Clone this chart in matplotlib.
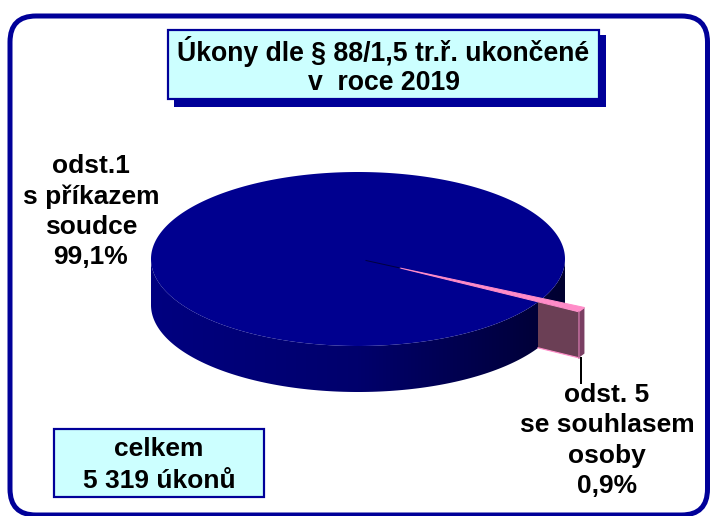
import numpy as np
import matplotlib
matplotlib.use("Agg")
import matplotlib.pyplot as plt
from matplotlib.colors import LinearSegmentedColormap
from matplotlib.patches import FancyBboxPatch, Polygon, Rectangle

title_text = "Úkony dle § 88/1,5 tr.ř. ukončené\nv  roce 2019"
total_text = "celkem\n5 319 úkonů"
slice_names = ["odst.1\ns příkazem\nsoudce", "odst. 5\nse souhlasem\nosoby"]
shares = [99.1, 0.9]

navy = "#00008f"
frame = "#000099"
pink = "#ff8cc8"
pale = "#ccffff"

plt.rcParams["font.family"] = ["Liberation Sans", "DejaVu Sans"]
plt.rcParams["font.weight"] = "bold"

W, H = 710, 516
fig = plt.figure(figsize=(W / 100, H / 100), dpi=100)
ax = fig.add_axes([0, 0, 1, 1])
ax.set_xlim(0, W)
ax.set_ylim(H, 0)
ax.axis("off")

px = 0.72  # one pixel in points

# outer rounded frame, bottom edge runs into the image border
ax.add_patch(FancyBboxPatch((10, 16), 697.5, 499, boxstyle="round,pad=0,rounding_size=26",
                            fc="white", ec=frame, lw=5 * px, zorder=0.5))

# pie geometry
cx, cy, rx, ry, depth = 358, 259, 207, 87, 46
small_deg = shares[1] / sum(shares) * 360
a_start = -27.0
a_end = a_start - small_deg
off_x, off_y = 42, 9


def rim(a, dx=0, dy=0, down=0):
    t = np.radians(a)
    return cx + dx + rx * np.cos(t), cy + dy - ry * np.sin(t) + down


# side of main slice, shaded left to right
side_cmap = LinearSegmentedColormap.from_list(
    "side", [(0, "#000080"), (0.5, "#00006c"), (0.86, "#000042"), (1, "#000030")])
tt = np.linspace(180, 360, 181)
side = Polygon([rim(a) for a in tt] + [rim(a, down=depth) for a in tt[::-1]], fc="none", ec="none")
ax.add_patch(side)
grad = ax.imshow(np.linspace(0, 1, 256)[None, :], cmap=side_cmap, aspect="auto", zorder=0.9,
                 extent=(cx - rx, cx + rx, cy + depth + ry, cy))
grad.set_clip_path(side)
ax.set_xlim(0, W)
ax.set_ylim(H, 0)

# top of main slice
ax.add_patch(Polygon([rim(a) for a in np.linspace(0, 360, 361)], fc=navy, ec="none"))

# thin dark line where the slice was pulled out
ax.plot([cx + 8, cx + off_x], [cy + 1.5, cy + off_y], color="#000040", lw=1 * px)

# pulled out small slice
apex = (cx + off_x, cy + off_y)
p_top = rim(a_start, off_x, off_y)
p_bot = rim(a_end, off_x, off_y)
apex_low = (apex[0], apex[1] + depth)
p_bot_low = rim(a_end, off_x, off_y, depth)
p_top_low = rim(a_start, off_x, off_y, depth)

# cut wall, only the part outside the main slice shows
wall = Polygon([apex, p_bot, p_bot_low, apex_low], fc="#6b3f55", ec="none")
ax.add_patch(wall)
wall.set_clip_path(Rectangle((538, 250), 60, 130, transform=ax.transData))
low_y = apex_low[1] + (538 - apex[0]) * (p_bot_low[1] - apex_low[1]) / (p_bot_low[0] - apex[0])
ax.plot([538, p_bot_low[0]], [low_y, p_bot_low[1]], color=pink, lw=1.2 * px)
# outer rim
ax.add_patch(Polygon([p_bot, p_top, p_top_low, p_bot_low], fc="#7a3f63", ec="none"))
ax.plot([p_bot[0], p_bot_low[0]], [p_bot[1], p_bot_low[1]], color="#c06a9a", lw=1.5 * px)
# top face
ax.add_patch(Polygon([apex, p_bot, p_top], fc=pink, ec=pink, lw=1.0 * px, joinstyle="round"))

# leader line
ax.plot([581, 581], [p_bot_low[1], 383], color="black", lw=2 * px)

# title box
ax.add_patch(Rectangle((174, 35), 432, 72, fc=frame, ec="none"))
ax.add_patch(Rectangle((168, 30), 431, 69, fc=pale, ec=frame, lw=2.2 * px))
ax.text(383.5, 66, title_text, ha="center", va="center", fontsize=19.2, linespacing=1.18)

# total box
ax.add_patch(Rectangle((53.5, 428.5), 210, 68, fc=pale, ec=frame, lw=2.2 * px))
ax.text(159, 465, total_text, ha="center", va="center", fontsize=19.0, linespacing=1.37)

# slice labels
ax.text(91, 211.5, f"{slice_names[0]}\n{str(shares[0]).replace('.', ',')}%", ha="center", va="center",
        fontsize=19.0, linespacing=1.32)
ax.text(607, 440.5, f"{slice_names[1]}\n{str(shares[1]).replace('.', ',')}%", ha="center", va="center",
        fontsize=19.0, linespacing=1.35)

fig.savefig("out.png", dpi=100)
